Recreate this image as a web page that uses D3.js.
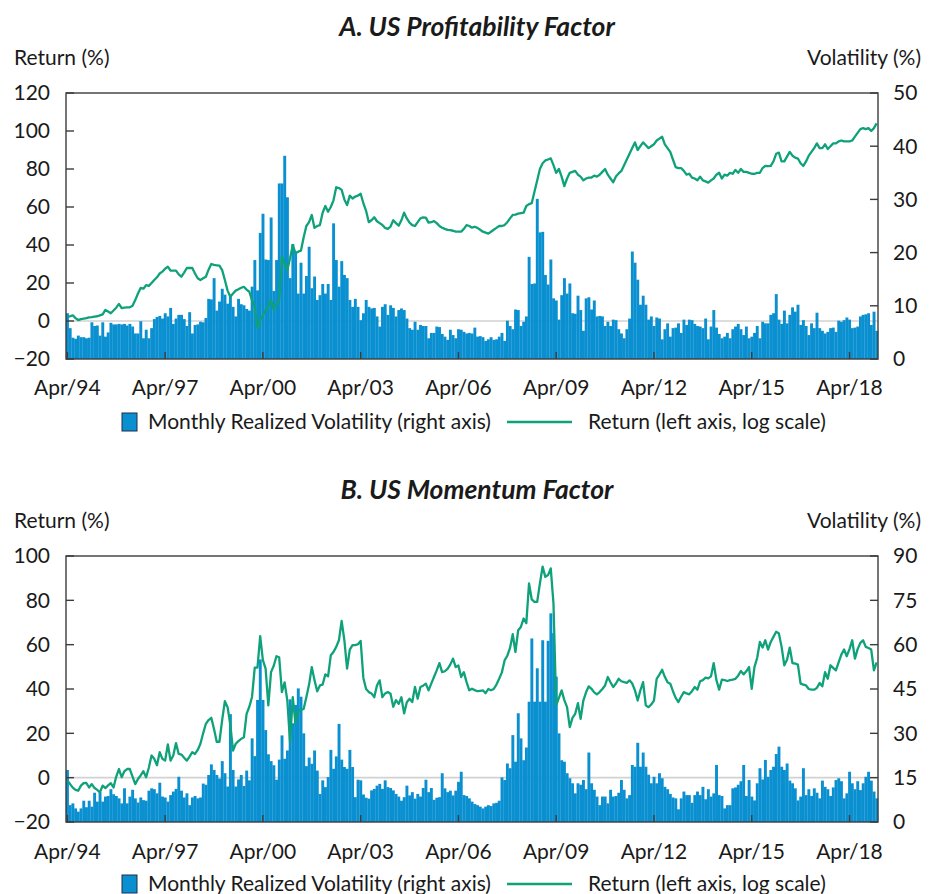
<!DOCTYPE html>
<html>
<head>
<meta charset="utf-8">
<script src="https://cdn.jsdelivr.net/npm/d3@7"></script>
<style>
body { margin:0; background:#fff; }
svg text { font-family: Lato, "Noto Sans", sans-serif; fill:#1a1a1a; }
</style>
</head>
<body>
<div id="chart"></div>
<script>
// ---- data, monthly Apr/94 .. Feb/19 ----
const xTickLabels = ["Apr/94","Apr/97","Apr/00","Apr/03","Apr/06","Apr/09","Apr/12","Apr/15","Apr/18"];

const leftTicksA = [-20, 0, 20, 40, 60, 80, 100, 120];
const rightTicksA = [0, 10, 20, 30, 40, 50];
const leftTicksB = [-20, 0, 20, 40, 60, 80, 100];
const rightTicksB = [0, 15, 30, 45, 60, 75, 90];

// US profitability: monthly realized volatility (%)
const volA = [
 8.6,5.8,4.0,3.8,4.4,4.1,4.1,3.9,4.0,6.9, 6.2,6.3,4.4,6.9,4.2,5.0,6.8,6.5,6.5,6.6,
 6.5,6.6,6.3,6.6,6.1,4.8,4.8,7.1,3.9,5.5, 3.9,5.8,7.5,7.9,8.1,7.6,8.6,8.0,9.6,6.6,
 7.6,8.3,8.3,7.5,6.2,8.8,4.8,6.4,6.5,7.0, 6.9,7.7,11.3,11.2,15.2,9.1,10.8,13.2,12.1,10.4,
 11.8,9.8,8.0,11.3,10.3,10.1,9.4,9.1,13.6,18.6, 12.9,23.7,27.3,18.7,18.6,26.6,12.8,18.6,33.0,33.0,
 38.2,30.4,15.2,21.6,20.2,12.3,18.1,12.3,15.6,21.1, 13.3,15.5,11.1,12.0,14.1,12.3,14.1,11.1,25.5,18.6,
 13.6,18.4,15.8,15.2,11.1,9.8,11.3,9.8,7.3,8.6, 11.1,9.8,9.5,9.6,8.0,6.1,9.8,10.3,8.3,10.1,
 9.6,8.0,9.2,9.5,9.2,7.6,5.8,5.5,7.0,5.5, 6.4,6.2,6.2,3.9,4.9,4.9,6.1,6.0,4.7,4.2,
 3.6,5.5,4.5,3.9,5.6,5.5,5.1,4.8,4.9,4.8, 5.9,4.2,4.3,4.1,3.4,3.7,4.1,3.6,3.7,4.2,
 4.9,3.4,7.2,6.2,5.6,9.3,9.2,6.2,7.0,8.0, 19.2,14.1,14.2,30.1,23.8,23.9,15.8,14.0,18.7,11.4,
 11.0,7.4,12.0,15.2,12.3,14.2,8.6,8.5,11.9,9.2, 5.3,11.4,11.6,9.3,11.0,8.0,8.1,8.0,6.2,7.0,
 6.2,7.4,7.3,5.6,4.8,3.9,5.6,7.6,20.2,18.1, 14.9,10.2,11.9,10.2,7.4,8.0,6.2,7.8,7.6,3.7,
 5.6,6.7,4.2,5.8,5.9,6.7,4.9,7.4,6.4,7.4, 7.3,6.6,6.2,6.1,5.8,7.6,3.7,6.1,9.2,5.9,
 4.7,3.9,4.2,4.9,3.9,5.6,6.1,6.6,5.6,4.5, 6.1,3.9,4.2,4.9,6.2,3.9,7.0,6.7,6.7,8.3,
 8.6,12.2,7.4,6.6,9.1,6.7,8.3,9.7,8.9,10.2, 6.4,7.3,6.2,4.5,6.7,5.8,8.7,5.8,5.3,4.8,
 5.1,5.8,5.9,5.1,7.2,7.0,7.3,7.8,7.4,5.8, 5.9,6.1,8.0,8.3,8.4,8.6,6.4,8.9,5.3
];
// US profitability: cumulative return (%)
const retA = [
 2.0,2.5,3.0,1.5,0.5,1.0,1.2,1.5,1.9,2.0, 2.3,2.5,3.0,3.5,5.8,5.0,4.1,5.5,7.0,9.0,
 6.8,7.0,7.2,7.2,8.0,11.0,14.5,17.4,17.0,18.9, 18.5,20.0,21.6,23.0,25.0,26.0,27.5,28.6,26.5,26.5,
 26.5,24.5,23.3,25.5,27.9,28.0,27.9,25.0,22.5,21.6, 22.5,23.3,27.0,30.0,29.5,29.3,29.1,26.8,21.6,16.0,
 12.8,14.5,16.0,16.7,17.5,18.0,16.5,15.4,11.0,7.5, -3.7,0.5,3.0,5.8,8.0,11.0,5.8,9.0,11.0,34.0,
 30.0,26.8,33.0,40.0,35.7,36.5,37.0,44.0,50.0,52.0, 55.8,49.0,50.0,50.5,57.0,60.5,57.5,60.0,63.5,70.4,
 70.0,69.0,64.0,61.0,66.0,64.5,65.5,66.0,67.0,62.0, 58.0,52.0,53.0,54.6,52.5,51.5,50.5,49.0,48.5,49.7,
 53.0,51.5,50.2,53.0,57.0,54.0,51.8,50.5,50.0,52.0, 54.0,54.5,54.4,51.8,52.0,52.6,51.5,50.0,49.1,48.5,
 48.0,47.8,47.5,47.0,47.0,47.0,48.5,50.5,50.0,49.1, 49.6,49.0,48.0,47.0,46.5,46.0,47.0,48.0,49.0,50.0,
 50.0,50.5,52.0,54.0,55.8,56.0,56.5,56.8,57.0,60.5, 61.5,62.0,68.0,74.0,80.0,83.0,84.5,85.0,85.6,82.0,
 78.0,80.0,76.0,71.0,75.0,78.0,78.5,79.0,77.0,76.0, 74.0,75.0,75.5,75.5,76.5,76.0,77.0,78.5,80.0,77.0,
 75.0,73.0,76.0,77.7,79.0,82.0,85.0,88.0,91.0,94.0, 90.0,92.0,94.0,92.5,91.0,92.0,93.0,95.0,96.0,97.0,
 93.0,91.0,89.0,85.0,81.0,80.5,80.5,79.0,77.0,77.5, 75.5,75.0,74.0,76.0,74.0,73.5,72.8,74.0,75.0,77.0,
 78.0,75.0,77.0,76.5,78.0,77.5,79.5,78.0,80.0,78.5, 78.5,78.0,77.5,77.4,78.0,78.0,80.5,81.6,81.5,81.6,
 84.0,88.0,88.6,84.0,84.0,86.5,89.0,87.0,86.0,85.5, 83.0,81.6,84.0,87.0,89.0,91.0,93.5,91.0,91.0,93.0,
 90.5,92.0,93.5,93.5,94.5,95.0,94.5,94.5,94.5,95.0, 97.0,99.0,101.0,101.5,101.0,101.5,100.0,101.5,104.0
];

// US momentum: monthly realized volatility (%)
const volB = [
 17.6,5.7,6.3,4.6,3.5,4.6,7.2,5.0,7.2,5.2, 9.9,6.9,10.1,6.9,8.6,8.8,11.1,9.4,8.8,8.0,
 6.3,11.4,6.3,8.6,10.9,8.0,6.6,8.3,7.4,7.2, 10.6,11.4,11.1,9.7,13.3,8.6,8.3,6.9,9.1,10.3,
 11.2,15.3,10.6,8.3,9.7,5.7,8.3,8.8,8.0,8.3, 13.0,12.6,15.9,19.5,17.6,15.9,14.7,20.6,16.5,12.0,
 36.5,17.6,12.0,14.4,15.9,12.2,17.4,14.1,28.3,22.3, 41.3,55.0,41.3,31.1,22.9,20.6,19.2,14.3,21.1,29.3,
 21.4,24.2,41.5,33.4,39.6,45.2,42.4,30.0,18.9,21.8, 19.7,24.2,17.4,9.5,14.1,11.8,15.2,24.4,18.0,22.2,
 33.2,21.1,18.6,18.0,24.4,18.6,8.4,14.3,14.1,9.3, 8.2,7.9,10.7,11.2,12.3,12.9,11.2,14.1,11.8,11.5,
 10.7,9.5,8.6,7.2,8.4,12.3,9.0,10.1,7.9,9.5, 8.6,11.5,14.3,10.1,11.5,7.5,8.2,8.4,16.5,11.4,
 10.1,10.6,9.0,10.6,13.6,17.0,9.1,8.8,8.0,6.9, 6.1,5.7,5.2,4.6,5.2,5.7,5.4,6.3,6.5,7.2,
 15.1,14.2,19.8,18.2,29.4,20.4,36.8,28.3,20.9,25.2, 40.7,62.1,40.7,52.0,40.7,61.5,40.7,61.3,70.6,63.9,
 49.2,30.0,20.9,20.4,16.5,14.8,13.1,9.7,13.1,12.6, 14.2,11.1,23.5,13.1,10.9,8.6,5.7,8.6,8.6,6.3,
 10.9,8.6,8.8,9.9,14.2,10.9,8.0,9.1,19.3,18.7, 26.8,18.7,23.5,18.7,16.0,13.1,15.3,13.1,16.5,14.8,
 11.9,11.1,9.5,8.3,8.0,4.3,8.0,10.3,9.1,9.1, 6.5,9.1,10.3,9.1,11.9,7.7,11.1,8.6,9.7,19.3,
 9.1,8.8,4.6,5.7,5.7,11.4,11.7,12.6,13.8,19.3, 8.8,14.2,8.6,7.3,13.1,18.2,14.4,21.0,15.3,17.6,
 18.7,23.0,25.5,18.7,17.6,19.8,14.0,13.1,11.4,7.3, 8.6,18.2,9.1,11.1,8.8,11.4,9.9,8.0,14.0,11.9,
 11.1,8.8,11.7,14.2,14.8,13.8,8.0,9.7,17.0,13.1, 11.1,13.8,10.8,13.1,15.3,17.0,14.0,10.3,8.0
];
// US momentum: cumulative return (%)
const retB = [
 -1.4,-2.9,-4.5,-5.5,-5.9,-3.6,-2.5,-2.4,-4.4,-2.9, -4.7,-5.5,-6.6,-3.6,-4.7,-3.5,-2.5,-4.4,0.5,3.9,
 0.2,2.9,3.9,3.9,0.5,-2.9,-0.6,1.0,2.9,0.2, 4.5,10.0,8.5,5.6,11.5,8.5,7.7,15.0,7.7,10.0,
 15.6,10.7,10.4,9.0,7.7,9.5,11.5,10.7,12.5,15.3, 20.0,24.3,26.0,27.0,22.0,16.2,16.2,26.0,34.5,31.8,
 24.0,12.2,15.3,16.5,17.5,18.2,28.8,32.0,36.4,49.6, 49.6,63.8,53.0,49.2,32.6,47.6,50.5,54.8,54.3,38.6,
 43.0,34.8,16.0,36.3,24.4,30.3,30.5,31.0,36.3,42.0, 49.9,44.0,39.0,41.6,42.0,46.6,45.7,55.2,56.7,59.0,
 62.0,70.7,62.0,49.2,57.8,59.8,59.8,60.2,61.7,45.0, 40.0,38.6,38.0,36.3,41.6,43.9,36.3,38.0,38.6,37.9,
 32.0,35.0,33.3,36.3,29.0,34.0,35.6,34.1,40.9,35.6, 40.9,41.5,42.4,39.4,42.4,45.4,48.4,51.7,47.6,48.0,
 49.1,51.0,53.7,49.9,50.6,45.4,47.6,43.1,39.4,40.1, 39.5,39.0,39.2,39.4,38.1,40.0,39.4,40.0,42.0,44.6,
 47.5,52.9,55.0,58.5,64.7,56.7,66.5,68.0,71.8,69.7, 87.6,80.4,79.3,79.3,87.6,95.2,90.6,91.4,94.4,78.6,
 32.6,36.0,39.4,35.0,31.8,22.8,27.0,28.8,33.6,26.5, 34.8,38.5,41.2,40.1,38.5,37.6,38.6,40.0,41.6,45.4,
 43.0,40.9,42.5,44.6,43.5,43.1,42.8,43.9,42.5,39.4, 34.8,39.4,43.1,32.6,31.8,33.0,34.8,44.6,46.5,48.7,
 45.5,43.1,42.4,39.0,36.0,34.1,36.5,38.6,38.0,37.6, 39.0,40.9,39.7,43.5,44.0,45.1,44.8,45.7,51.7,44.0,
 39.7,44.2,44.0,43.6,44.0,44.2,44.6,46.0,48.1,46.6, 48.0,49.9,40.1,49.9,54.0,61.2,58.7,62.0,57.8,61.2,
 63.5,65.8,65.0,59.0,50.7,53.2,58.7,51.7,51.5,51.0, 42.4,42.0,41.6,40.0,39.7,39.7,40.5,42.7,41.2,47.6,
 44.6,50.7,49.5,48.4,52.0,55.5,57.8,54.8,58.0,62.0, 53.7,58.0,60.8,62.0,59.0,58.5,57.8,48.4,52.0
];

// ---- chart ----
const W = 936, H = 894;
const BLUE = "#0a90d0", GREEN = "#0fa27a";
const FS = "21px";
const svg = d3.select("#chart").append("svg")
    .attr("width", W).attr("height", H);

const months = d3.timeMonth.range(new Date(1994, 3, 1), new Date(2019, 2, 1));
const x = d3.scaleBand().domain(d3.range(months.length)).range([66, 878]).padding(0);
const xTickIdx = xTickLabels.map((d, k) => k * 36);

function panel(cfg) {
  const g = svg.append("g");
  const yL = d3.scaleLinear().domain(cfg.leftDomain).range([cfg.bottom, cfg.top]);
  const yR = d3.scaleLinear().domain(cfg.rightDomain).range([cfg.bottom, cfg.top]);

  g.append("text").attr("x", 477).attr("y", cfg.titleY)
    .attr("text-anchor", "middle").style("font-size", "26.5px")
    .style("font-weight", "bold").style("font-style", "italic").text(cfg.title);
  g.append("text").attr("x", 14).attr("y", cfg.axisTitleY)
    .style("font-size", FS).text("Return (%)");
  g.append("text").attr("x", 921).attr("y", cfg.axisTitleY).attr("text-anchor", "end")
    .style("font-size", FS).text("Volatility (%)");

  // zero return line
  g.append("line").attr("x1", 66).attr("x2", 878)
    .attr("y1", yL(0)).attr("y2", yL(0))
    .attr("stroke", "#d2d2d2").attr("stroke-width", 1.6);

  g.selectAll("rect.bar").data(cfg.vol).enter().append("rect")
    .attr("class", "bar")
    .attr("x", (d, i) => x(i))
    .attr("width", x.bandwidth() + 0.2)
    .attr("y", d => yR(d))
    .attr("height", d => yR(0) - yR(d))
    .attr("fill", BLUE);

  // frame
  g.append("rect").attr("x", 66).attr("y", cfg.top)
    .attr("width", 812).attr("height", cfg.bottom - cfg.top)
    .attr("fill", "none").attr("stroke", "#3c3c3c").attr("stroke-width", 1.4);

  // left axis
  cfg.leftTicks.forEach(t => {
    g.append("line").attr("x1", 66).attr("x2", 74).attr("y1", yL(t)).attr("y2", yL(t))
      .attr("stroke", "#3c3c3c").attr("stroke-width", 1.4);
    g.append("text").attr("x", 50).attr("y", yL(t)).attr("dy", "0.35em")
      .attr("text-anchor", "end").style("font-size", FS).text(t < 0 ? "\u2212" + (-t) : t);
  });
  // right axis
  cfg.rightTicks.forEach(t => {
    g.append("line").attr("x1", 870).attr("x2", 878).attr("y1", yR(t)).attr("y2", yR(t))
      .attr("stroke", "#3c3c3c").attr("stroke-width", 1.4);
    g.append("text").attr("x", 893).attr("y", yR(t)).attr("dy", "0.35em")
      .style("font-size", FS).text(t);
  });
  // bottom axis
  xTickIdx.forEach((idx, k) => {
    const cx = x(idx) + x.bandwidth() / 2;
    g.append("line").attr("x1", cx).attr("x2", cx)
      .attr("y1", cfg.bottom).attr("y2", cfg.bottom - 7)
      .attr("stroke", "#3c3c3c").attr("stroke-width", 1.4);
    g.append("text").attr("x", cx).attr("y", cfg.xLabelY).attr("text-anchor", "middle")
      .style("font-size", FS).text(xTickLabels[k]);
  });

  const line = d3.line()
    .x((d, i) => x(i) + x.bandwidth() / 2)
    .y(d => yL(d));
  g.append("path").datum(cfg.ret).attr("d", line)
    .attr("fill", "none").attr("stroke", GREEN).attr("stroke-width", 2.3)
    .attr("stroke-linejoin", "round");

  // legend
  const ly = cfg.legendY;
  g.append("rect").attr("x", 122).attr("y", ly - 9).attr("width", 15).attr("height", 18)
    .attr("fill", BLUE).attr("stroke", "#1c3048").attr("stroke-width", 1);
  g.append("text").attr("x", 148).attr("y", ly).attr("dy", "0.35em")
    .style("font-size", FS).text("Monthly Realized Volatility (right axis)");
  g.append("line").attr("x1", 507).attr("x2", 572).attr("y1", ly).attr("y2", ly)
    .attr("stroke", GREEN).attr("stroke-width", 2.5);
  g.append("text").attr("x", 588).attr("y", ly).attr("dy", "0.35em")
    .style("font-size", FS).text("Return (left axis, log scale)");
}

panel({
  title: "A. US Profitability Factor", titleY: 36, axisTitleY: 65,
  top: 93, bottom: 359, leftDomain: [-20, 120], rightDomain: [0, 50],
  leftTicks: leftTicksA, rightTicks: rightTicksA,
  vol: volA, ret: retA, xLabelY: 395, legendY: 422
});
panel({
  title: "B. US Momentum Factor", titleY: 499, axisTitleY: 528,
  top: 556, bottom: 822, leftDomain: [-20, 100], rightDomain: [0, 90],
  leftTicks: leftTicksB, rightTicks: rightTicksB,
  vol: volB, ret: retB, xLabelY: 859, legendY: 884
});
</script>
</body>
</html>
